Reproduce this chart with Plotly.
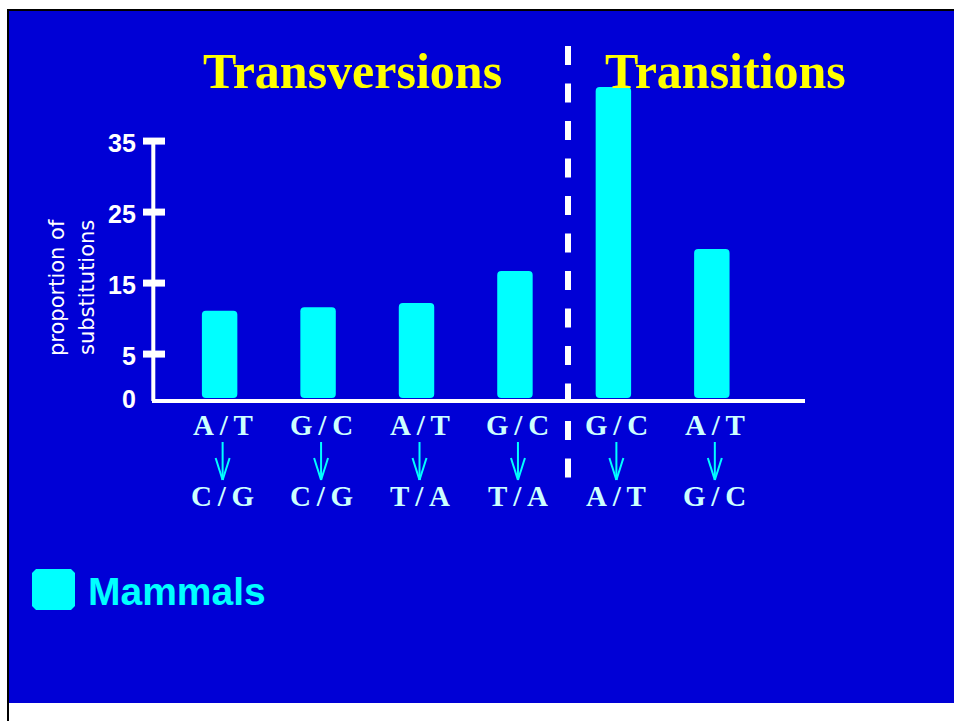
import plotly.graph_objects as go

# ---------------- data ----------------
CATEGORIES = ["A/T→C/G", "G/C→C/G", "A/T→T/A", "G/C→T/A", "G/C→A/T", "A/T→G/C"]
FROM_LABELS = ["A/T", "G/C", "A/T", "G/C", "G/C", "A/T"]
TO_LABELS = ["C/G", "C/G", "T/A", "T/A", "A/T", "G/C"]
PROPORTION = [11.1, 11.6, 12.2, 16.7, 42.6, 19.8]   # bar tops read on the axis
Y_TICK_VALUES = [5, 15, 25, 35]
Y_TICK_LABELS = ["5", "15", "25", "35"]
ZERO_LABEL = "0"
GROUP_TITLES = ["Transversions", "Transitions"]
SERIES_NAME = "Mammals"
Y_TITLE = ["proportion of", "substitutions"]

# ---------------- layout constants ----------------
W, H = 954, 721
BLUE = "#0000D6"
CYAN = "#00FFFF"
LABEL_CYAN = "#CCFFFF"
YELLOW = "#FFFF00"
BASELINE = -1.6      # level of the drawn x axis line (labelled "0")
BAR_BASE = -1.2


def px(x):
    return x / W


def py(y):
    return 1 - y / H


fig = go.Figure()
fig.add_trace(go.Bar(
    x=CATEGORIES,
    y=[v - BAR_BASE for v in PROPORTION],
    base=BAR_BASE,
    width=0.36,
    name=SERIES_NAME,
    marker=dict(color=CYAN, line=dict(width=0), cornerradius=4),
    showlegend=False,
    hoverinfo="skip",
))

shapes = []
annotations = []

# blue panel + black frame lines
shapes.append(dict(type="rect", xref="paper", yref="paper", layer="below",
                   x0=px(9), x1=1.0, y0=py(703), y1=py(11),
                   fillcolor=BLUE, line=dict(width=0)))
shapes.append(dict(type="line", xref="paper", yref="paper",
                   x0=px(7), x1=1.0, y0=py(10), y1=py(10),
                   line=dict(color="black", width=2)))
shapes.append(dict(type="line", xref="paper", yref="paper",
                   x0=px(8), x1=px(8), y0=py(10), y1=0,
                   line=dict(color="black", width=2)))

# axes lines
shapes.append(dict(type="line", xref="paper", yref="y",
                   x0=px(153.3), x1=px(153.3), y0=BASELINE, y1=35.15,
                   line=dict(color="white", width=4)))
shapes.append(dict(type="line", xref="paper", yref="y",
                   x0=px(152), x1=px(805), y0=BASELINE, y1=BASELINE,
                   line=dict(color="white", width=4)))
# y ticks (straddling the axis)
for v in Y_TICK_VALUES:
    shapes.append(dict(type="line", xref="paper", yref="y",
                       x0=px(143), x1=px(165), y0=v, y1=v,
                       line=dict(color="white", width=7)))
# y tick labels
for v, t in zip(Y_TICK_VALUES, Y_TICK_LABELS):
    annotations.append(dict(text="<b>%s</b>" % t, xref="paper", yref="y", x=px(138), y=v,
                            xanchor="right", yanchor="middle", showarrow=False,
                            yshift=-2,
                            font=dict(family="Liberation Sans", size=25, color="white")))
annotations.append(dict(text="<b>%s</b>" % ZERO_LABEL, xref="paper", yref="y", x=px(138),
                        y=BASELINE, xanchor="right", yanchor="middle", showarrow=False,
                        yshift=2,
                        font=dict(family="Liberation Sans", size=25, color="white")))

# y title (two rotated lines)
for xc, t in zip([57, 87], Y_TITLE):
    annotations.append(dict(text=t, xref="paper", yref="paper", x=px(xc), y=py(288),
                            xanchor="center", yanchor="middle", textangle=-90,
                            showarrow=False,
                            font=dict(family="DejaVu Sans", size=21, color="white")))

# group titles
for xc, t in zip([352.5, 725], GROUP_TITLES):
    annotations.append(dict(text="<b>%s</b>" % t, xref="paper", yref="paper",
                            x=px(xc), y=py(71), xanchor="center", yanchor="middle",
                            showarrow=False,
                            font=dict(family="Liberation Serif", size=50, color=YELLOW)))

# dashed divider
shapes.append(dict(type="line", xref="paper", yref="paper",
                   x0=px(568), x1=px(568), y0=py(46), y1=py(477.5),
                   line=dict(color="white", width=6, dash="19px,18.5px")))

# x category labels with arrows
SHIFT = 3
for i, (a, b) in enumerate(zip(FROM_LABELS, TO_LABELS)):
    for txt, yc in ((a, 424.5), (b, 496)):
        annotations.append(dict(text="<b>%s</b>" % txt.replace("/", "\u2009/\u2009"),
                                xref="x", yref="paper", x=i, y=py(yc),
                                xanchor="center", yanchor="middle", xshift=SHIFT,
                                showarrow=False,
                                font=dict(family="Liberation Serif", size=29,
                                          color=LABEL_CYAN)))
    for (x0, y0, x1, y1) in ((0, 442, 0, 480), (-7, 458, 0, 480), (7, 458, 0, 480)):
        shapes.append(dict(type="line", xref="x", yref="paper", xsizemode="pixel",
                           xanchor=i, x0=x0 + SHIFT, x1=x1 + SHIFT,
                           y0=py(y0), y1=py(y1),
                           line=dict(color=CYAN, width=2)))

# legend swatch (chamfered square) and label
c = 4
hw = 21.5
hh = 20.5
path = ("M %g,%g L %g,%g L %g,%g L %g,%g L %g,%g L %g,%g L %g,%g L %g,%g Z" % (
    -hw + c, -hh, hw - c, -hh, hw, -hh + c, hw, hh - c,
    hw - c, hh, -hw + c, hh, -hw, hh - c, -hw, -hh + c))
shapes.append(dict(type="path", xref="paper", yref="paper",
                   xsizemode="pixel", ysizemode="pixel",
                   xanchor=px(53.5), yanchor=py(589.5), path=path,
                   fillcolor=CYAN, line=dict(width=0)))
annotations.append(dict(text="<b>%s</b>" % SERIES_NAME, xref="paper", yref="paper",
                        x=px(86), y=py(591.5), xanchor="left", yanchor="middle",
                        showarrow=False,
                        font=dict(family="Liberation Sans", size=39, color=CYAN)))

fig.update_layout(
    width=W, height=H, autosize=False,
    margin=dict(l=0, r=0, t=0, b=0, pad=0),
    paper_bgcolor="white",
    plot_bgcolor="rgba(0,0,0,0)",
    bargap=0.64,
    shapes=shapes,
    annotations=annotations,
    showlegend=False,
    xaxis=dict(type="category", categoryorder="array", categoryarray=CATEGORIES,
               range=[-2.231, 7.460], domain=[0, 1], showticklabels=False,
               showgrid=False, zeroline=False, showline=False, ticks="",
               fixedrange=True),
    yaxis=dict(range=[-46.68, 54.87], domain=[0, 1], showticklabels=False,
               showgrid=False, zeroline=False, showline=False, ticks="",
               fixedrange=True),
)

fig.write_html(
    "out.html",
    config={"displayModeBar": False},
    post_script="document.body.style.margin='0';document.body.style.overflow='hidden';",
)
